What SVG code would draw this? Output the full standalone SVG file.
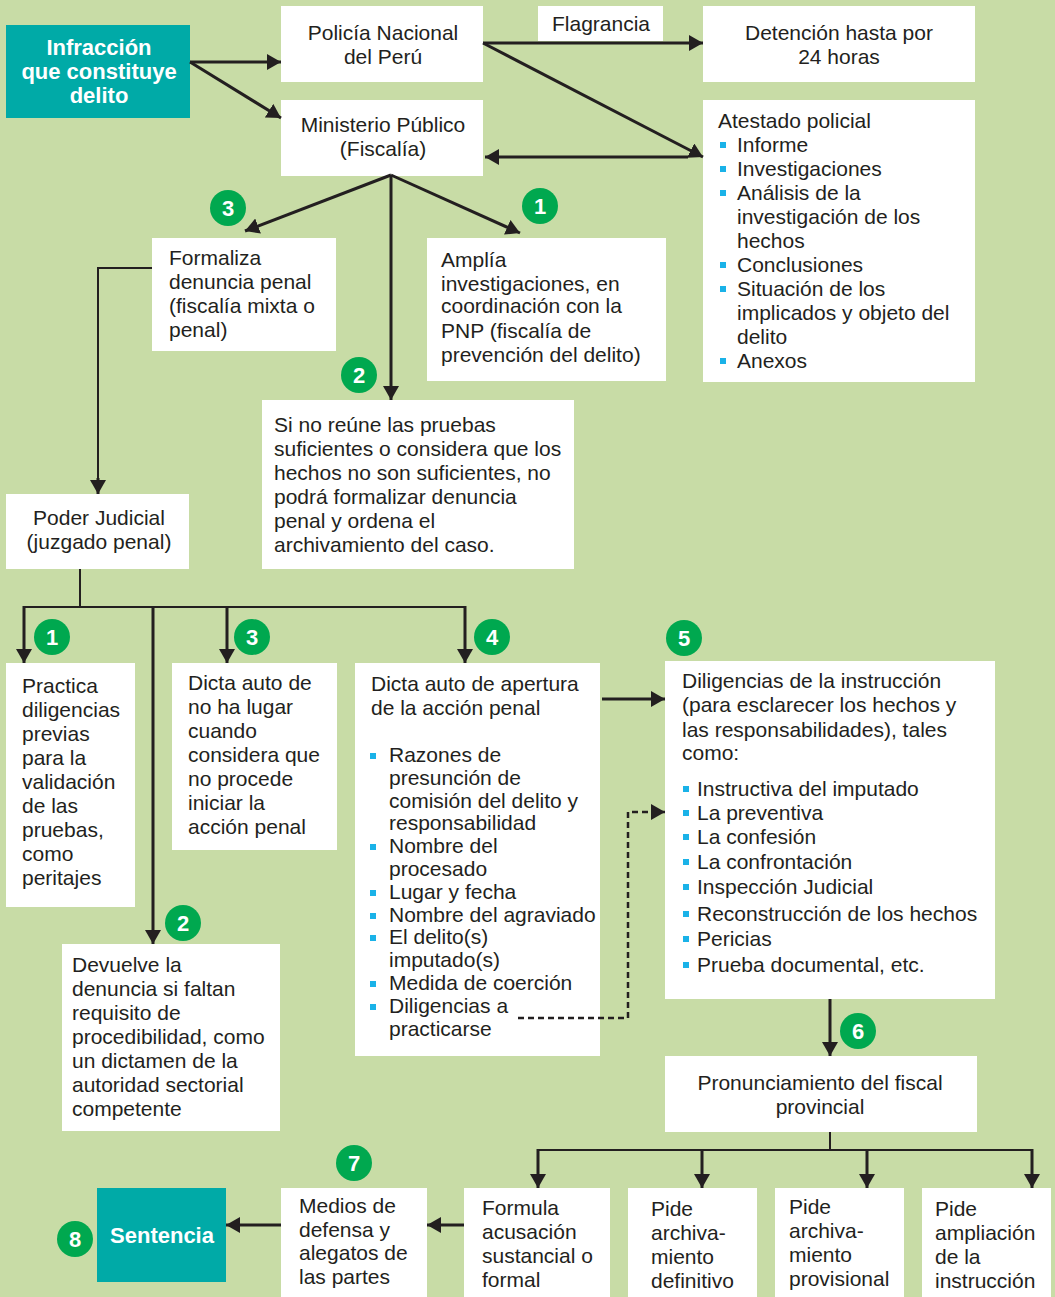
<svg xmlns="http://www.w3.org/2000/svg" width="1055" height="1297" viewBox="0 0 1055 1297">
<defs>
<style>
.bg{fill:#c8dca6}
.box{fill:#ffffff}
.teal{fill:#00aaa7}
.t{font-family:"Liberation Sans",Arial,sans-serif;font-size:21px;fill:#231f20}
.c{text-anchor:middle}
.tb{font-family:"Liberation Sans",Arial,sans-serif;font-size:22px;font-weight:bold;fill:#ffffff;text-anchor:middle}
.badge{fill:#00a84f}
.bn{font-family:"Liberation Sans",Arial,sans-serif;font-size:22px;font-weight:bold;fill:#ffffff;text-anchor:middle}
.bul{fill:#1ab2e8}
.ln{fill:none;stroke:#231f20;stroke-width:3}
.pl{fill:none;stroke:#231f20;stroke-width:2}
.ar{marker-end:url(#ah)}
.dash{stroke-dasharray:6 4;stroke-width:2.5}
</style>
<marker id="ah" markerUnits="userSpaceOnUse" markerWidth="14" markerHeight="16" viewBox="0 0 14 16" refX="14" refY="8" orient="auto">
<path d="M0,0 L14,8 L0,16 Z" fill="#231f20"/>
</marker>
</defs>
<rect class="bg" x="0" y="0" width="1055" height="1297"/>

<g id="infraccion">
<rect class="teal" x="6" y="25" width="184" height="93"/>
<text class="tb"><tspan x="99" y="55">Infracción</tspan><tspan x="99" y="79">que constituye</tspan><tspan x="99" y="103">delito</tspan></text>
</g>

<g id="policia">
<rect class="box" x="281" y="6" width="202" height="76"/>
<text class="t c"><tspan x="383" y="40">Policía Nacional</tspan><tspan x="383" y="64">del Perú</tspan></text>
</g>

<g id="flagrancia">
<rect class="box" x="538" y="6" width="125" height="35"/>
<text class="t c" x="601" y="31">Flagrancia</text>
</g>

<g id="detencion">
<rect class="box" x="703" y="6" width="272" height="76"/>
<text class="t c"><tspan x="839" y="40">Detención hasta por</tspan><tspan x="839" y="64">24 horas</tspan></text>
</g>

<g id="ministerio">
<rect class="box" x="281" y="100" width="202" height="76"/>
<text class="t c"><tspan x="383" y="132">Ministerio Público</tspan><tspan x="383" y="156">(Fiscalía)</tspan></text>
</g>

<g id="atestado">
<rect class="box" x="703" y="100" width="272" height="282"/>
<rect class="bul" x="720" y="142" width="6" height="6"/>
<rect class="bul" x="720" y="166" width="6" height="6"/>
<rect class="bul" x="720" y="190" width="6" height="6"/>
<rect class="bul" x="720" y="262" width="6" height="6"/>
<rect class="bul" x="720" y="286" width="6" height="6"/>
<rect class="bul" x="720" y="358" width="6" height="6"/>
<text class="t"><tspan x="718" y="128">Atestado policial</tspan><tspan x="737" y="152">Informe</tspan><tspan x="737" y="176">Investigaciones</tspan><tspan x="737" y="200">Análisis de la</tspan><tspan x="737" y="224">investigación de los</tspan><tspan x="737" y="248">hechos</tspan><tspan x="737" y="272">Conclusiones</tspan><tspan x="737" y="296">Situación de los</tspan><tspan x="737" y="320">implicados y objeto del</tspan><tspan x="737" y="344">delito</tspan><tspan x="737" y="368">Anexos</tspan></text>
</g>

<g id="formaliza">
<rect class="box" x="152" y="238" width="184" height="113"/>
<text class="t"><tspan x="169" y="265">Formaliza</tspan><tspan x="169" y="289">denuncia penal</tspan><tspan x="169" y="313">(fiscalía mixta o</tspan><tspan x="169" y="337">penal)</tspan></text>
</g>

<g id="amplia">
<rect class="box" x="427" y="238" width="239" height="143"/>
<text class="t"><tspan x="441" y="267">Amplía</tspan><tspan x="441" y="291">investigaciones, en</tspan><tspan x="441" y="313">coordinación con la</tspan><tspan x="441" y="338">PNP (fiscalía de</tspan><tspan x="441" y="362">prevención del delito)</tspan></text>
</g>

<g id="noreune">
<rect class="box" x="262" y="400" width="312" height="169"/>
<text class="t"><tspan x="274" y="432">Si no reúne las pruebas</tspan><tspan x="274" y="456">suficientes o considera que los</tspan><tspan x="274" y="480">hechos no son suficientes, no</tspan><tspan x="274" y="504">podrá formalizar denuncia</tspan><tspan x="274" y="528">penal y ordena el</tspan><tspan x="274" y="552">archivamiento del caso.</tspan></text>
</g>

<g id="poderjudicial">
<rect class="box" x="6" y="494" width="183" height="75"/>
<text class="t c"><tspan x="99" y="525">Poder Judicial</tspan><tspan x="99" y="549">(juzgado penal)</tspan></text>
</g>

<g id="practica">
<rect class="box" x="6" y="663" width="129" height="244"/>
<text class="t"><tspan x="22" y="693">Practica</tspan><tspan x="22" y="717">diligencias</tspan><tspan x="22" y="741">previas</tspan><tspan x="22" y="765">para la</tspan><tspan x="22" y="789">validación</tspan><tspan x="22" y="813">de las</tspan><tspan x="22" y="837">pruebas,</tspan><tspan x="22" y="861">como</tspan><tspan x="22" y="885">peritajes</tspan></text>
</g>

<g id="nohalugar">
<rect class="box" x="172" y="663" width="165" height="187"/>
<text class="t"><tspan x="188" y="690">Dicta auto de</tspan><tspan x="188" y="714">no ha lugar</tspan><tspan x="188" y="738">cuando</tspan><tspan x="188" y="762">considera que</tspan><tspan x="188" y="786">no procede</tspan><tspan x="188" y="810">iniciar la</tspan><tspan x="188" y="834">acción penal</tspan></text>
</g>

<g id="apertura">
<rect class="box" x="355" y="663" width="245" height="393"/>
<rect class="bul" x="370" y="753" width="6" height="6"/>
<rect class="bul" x="370" y="844" width="6" height="6"/>
<rect class="bul" x="370" y="890" width="6" height="6"/>
<rect class="bul" x="370" y="913" width="6" height="6"/>
<rect class="bul" x="370" y="935" width="6" height="6"/>
<rect class="bul" x="370" y="981" width="6" height="6"/>
<rect class="bul" x="370" y="1004" width="6" height="6"/>
<text class="t"><tspan x="371" y="691">Dicta auto de apertura</tspan><tspan x="371" y="715">de la acción penal</tspan><tspan x="389" y="762">Razones de</tspan><tspan x="389" y="785">presunción de</tspan><tspan x="389" y="808">comisión del delito y</tspan><tspan x="389" y="830">responsabilidad</tspan><tspan x="389" y="853">Nombre del</tspan><tspan x="389" y="876">procesado</tspan><tspan x="389" y="899">Lugar y fecha</tspan><tspan x="389" y="922">Nombre del agraviado</tspan><tspan x="389" y="944">El delito(s)</tspan><tspan x="389" y="967">imputado(s)</tspan><tspan x="389" y="990">Medida de coerción</tspan><tspan x="389" y="1013">Diligencias a</tspan><tspan x="389" y="1036">practicarse</tspan></text>
</g>

<g id="diligencias">
<rect class="box" x="665" y="661" width="330" height="338"/>
<rect class="bul" x="683" y="786" width="6" height="6"/>
<rect class="bul" x="683" y="810" width="6" height="6"/>
<rect class="bul" x="683" y="834" width="6" height="6"/>
<rect class="bul" x="683" y="859" width="6" height="6"/>
<rect class="bul" x="683" y="884" width="6" height="6"/>
<rect class="bul" x="683" y="911" width="6" height="6"/>
<rect class="bul" x="683" y="936" width="6" height="6"/>
<rect class="bul" x="683" y="962" width="6" height="6"/>
<text class="t"><tspan x="682" y="688">Diligencias de la instrucción</tspan><tspan x="682" y="712">(para esclarecer los hechos y</tspan><tspan x="682" y="737">las responsabilidades), tales</tspan><tspan x="682" y="760">como:</tspan><tspan x="697" y="796">Instructiva del imputado</tspan><tspan x="697" y="820">La preventiva</tspan><tspan x="697" y="844">La confesión</tspan><tspan x="697" y="869">La confrontación</tspan><tspan x="697" y="894">Inspección Judicial</tspan><tspan x="697" y="921">Reconstrucción de los hechos</tspan><tspan x="697" y="946">Pericias</tspan><tspan x="697" y="972">Prueba documental, etc.</tspan></text>
</g>

<g id="devuelve">
<rect class="box" x="62" y="944" width="218" height="187"/>
<text class="t"><tspan x="72" y="972">Devuelve la</tspan><tspan x="72" y="996">denuncia si faltan</tspan><tspan x="72" y="1020">requisito de</tspan><tspan x="72" y="1044">procedibilidad, como</tspan><tspan x="72" y="1068">un dictamen de la</tspan><tspan x="72" y="1092">autoridad sectorial</tspan><tspan x="72" y="1116">competente</tspan></text>
</g>

<g id="pronunciamiento">
<rect class="box" x="665" y="1056" width="312" height="76"/>
<text class="t c"><tspan x="820" y="1090">Pronunciamiento del fiscal</tspan><tspan x="820" y="1114">provincial</tspan></text>
</g>

<g id="formula">
<rect class="box" x="464" y="1188" width="146" height="109"/>
<text class="t"><tspan x="482" y="1215">Formula</tspan><tspan x="482" y="1239">acusación</tspan><tspan x="482" y="1263">sustancial o</tspan><tspan x="482" y="1287">formal</tspan></text>
</g>

<g id="definitivo">
<rect class="box" x="628" y="1188" width="129" height="109"/>
<text class="t"><tspan x="651" y="1216">Pide</tspan><tspan x="651" y="1240">archiva-</tspan><tspan x="651" y="1264">miento</tspan><tspan x="651" y="1288">definitivo</tspan></text>
</g>

<g id="provisional">
<rect class="box" x="775" y="1188" width="129" height="109"/>
<text class="t"><tspan x="789" y="1214">Pide</tspan><tspan x="789" y="1238">archiva-</tspan><tspan x="789" y="1262">miento</tspan><tspan x="789" y="1286">provisional</tspan></text>
</g>

<g id="ampliacion">
<rect class="box" x="922" y="1188" width="129" height="109"/>
<text class="t"><tspan x="935" y="1216">Pide</tspan><tspan x="935" y="1240">ampliación</tspan><tspan x="935" y="1264">de la</tspan><tspan x="935" y="1288">instrucción</tspan></text>
</g>

<g id="medios">
<rect class="box" x="281" y="1188" width="146" height="109"/>
<text class="t"><tspan x="299" y="1213">Medios de</tspan><tspan x="299" y="1237">defensa y</tspan><tspan x="299" y="1260">alegatos de</tspan><tspan x="299" y="1284">las partes</tspan></text>
</g>

<g id="sentencia">
<rect class="teal" x="97" y="1188" width="129" height="94"/>
<text class="tb" x="162" y="1243">Sentencia</text>
</g>

<g id="connectors">
<path class="ln ar" d="M190,62 H281"/>
<path class="ln ar" d="M190,62 L281,118"/>
<path class="ln ar" d="M483,43 H703"/>
<path class="ln ar" d="M483,43 L703,157"/>
<path class="ln ar" d="M688,157 H485"/>
<path class="ln ar" d="M391,175 L245,231"/>
<path class="ln ar" d="M391,175 V400"/>
<path class="ln ar" d="M391,175 L520,233"/>
<path class="pl" d="M152,268 H98 V480"/>
<path class="ln ar" d="M98,478 V494"/>
<path class="pl" d="M80,569 V607"/>
<path class="pl" d="M24,607 H465"/>
<path class="ln ar" d="M24,606 V663"/>
<path class="ln ar" d="M227,606 V663"/>
<path class="ln ar" d="M465,606 V663"/>
<path class="ln ar" d="M153,607 V944"/>
<path class="ln ar" d="M602,699 H665"/>
<path class="ln ar dash" d="M518,1018 H628 V812 H665"/>
<path class="ln ar" d="M830,999 V1056"/>
<path class="pl" d="M830,1132 V1150"/>
<path class="pl" d="M538,1150 H1032"/>
<path class="ln ar" d="M538,1149 V1188"/>
<path class="ln ar" d="M702,1149 V1188"/>
<path class="ln ar" d="M867,1149 V1188"/>
<path class="ln ar" d="M1032,1149 V1188"/>
<path class="ln ar" d="M464,1225 H427"/>
<path class="ln ar" d="M281,1225 H226"/>
</g>

<g id="badges">
<circle class="badge" cx="228" cy="208" r="18"/><text class="bn" x="228" y="216">3</text>
<circle class="badge" cx="540" cy="206" r="18"/><text class="bn" x="540" y="214">1</text>
<circle class="badge" cx="359" cy="375" r="18"/><text class="bn" x="359" y="383">2</text>
<circle class="badge" cx="52" cy="637" r="18"/><text class="bn" x="52" y="645">1</text>
<circle class="badge" cx="252" cy="637" r="18"/><text class="bn" x="252" y="645">3</text>
<circle class="badge" cx="492" cy="637" r="18"/><text class="bn" x="492" y="645">4</text>
<circle class="badge" cx="684" cy="638" r="18"/><text class="bn" x="684" y="646">5</text>
<circle class="badge" cx="183" cy="923" r="18"/><text class="bn" x="183" y="931">2</text>
<circle class="badge" cx="858" cy="1031" r="18"/><text class="bn" x="858" y="1039">6</text>
<circle class="badge" cx="354" cy="1163" r="18"/><text class="bn" x="354" y="1171">7</text>
<circle class="badge" cx="75" cy="1239" r="18"/><text class="bn" x="75" y="1247">8</text>
</g>
</svg>
